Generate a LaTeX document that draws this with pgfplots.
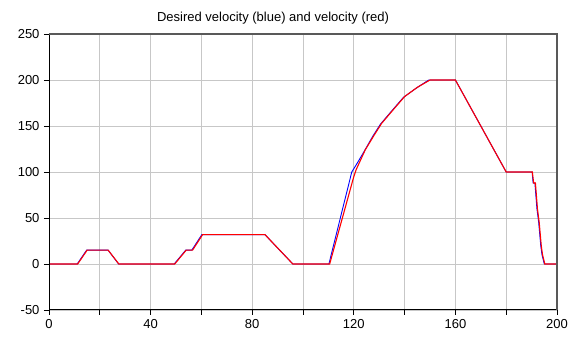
\documentclass[border=0pt]{standalone}
\usepackage{fontspec}
\setmainfont{Liberation Sans}
\usepackage{pgfplots}
\pgfplotsset{compat=1.18}
\begin{document}
\begin{tikzpicture}
\begin{axis}[
  scale only axis,
  width=508pt, height=276pt,
  xmin=0, xmax=200, ymin=-50, ymax=250,
  xtick={0,20,...,200},
  xticklabels={0,,40,,80,,120,,160,,200},
  ytick={-50,0,50,100,150,200,250},
  grid=major,
  major grid style={draw=black!22, line width=0.8pt},
  axis line style={draw=none},
  tick style={black, line width=0.8pt},
  major tick length=5pt,
  tick align=outside,
  xtick pos=bottom, ytick pos=left,
  font=\fontsize{13}{15}\selectfont,
  /pgf/number format/assume math mode=true,
  yticklabel style={xshift=-1pt},
  xticklabel style={yshift=-1pt},
  title={Desired velocity (blue) and velocity (red)},
  title style={at={(axis description cs:0.441,1)}, anchor=south, yshift=0pt, font=\fontsize{13}{15}\selectfont},
  clip=true,
]
\addplot[blue, line width=0.9pt] coordinates {
(0,0) (11.1,0) (14.8,15) (23.3,15) (27.4,0) (49.3,0) (53.8,15) (56.2,15) (60.2,32) (85,32) (96,0) (110.2,0)
(119.2,100) (121,108) (124,122) (127.5,139) (130.5,152) (134.5,165) (139.5,181) (144.5,191) (149.5,200) (160,200)
(170,150) (180,100) (190.2,100) (190.6,88) (191.3,88) (192.1,60) (192.8,45) (193.6,20) (194.1,10) (195,0) (200,0)
};
\addplot[red, line width=1.1pt] coordinates {
(0,0) (11.3,0) (15,15) (23.3,15) (27.5,0) (49.5,0) (54,15) (56.5,15) (60.5,32) (85,32) (96,0) (110.5,0)
(120,95) (121,103) (124.5,124) (128,140) (131,153) (135,166) (140,182) (145,192) (150,200) (160,200)
(180,100) (190.3,100) (190.8,88) (191.5,88) (192.3,60) (193,45) (193.8,20) (194.3,10) (195.2,0) (200,0)
};
\end{axis}
\draw[black, line width=1pt] (current axis.south west) -- (current axis.south east);
\draw[black, line width=1pt] (current axis.south west) -- (current axis.north west);
\draw[black!65, line width=1.2pt] (current axis.north west) -- (current axis.north east) -- (current axis.south east);
\path[use as bounding box] ([shift={(-49pt,-29pt)}]current axis.south west) rectangle ([shift={(24pt,34pt)}]current axis.north east);
\end{tikzpicture}
\end{document}
